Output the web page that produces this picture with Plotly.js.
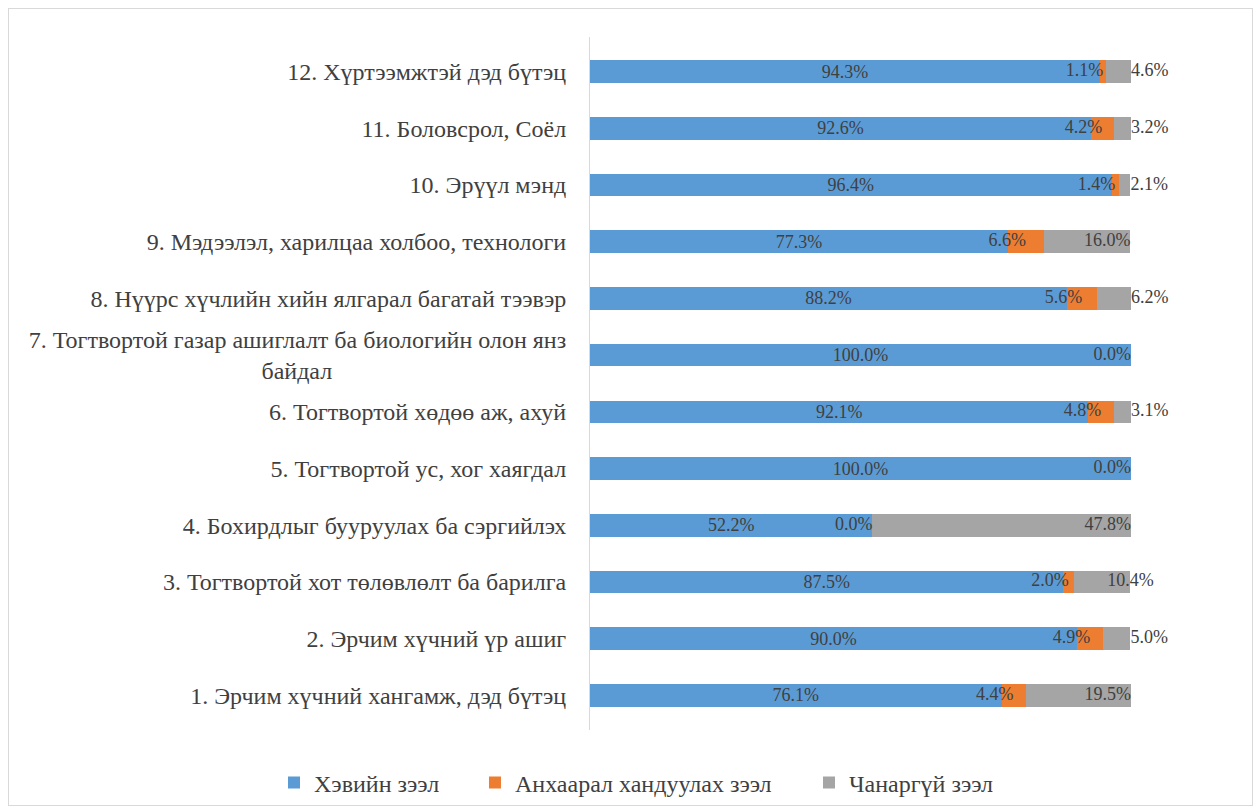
<!DOCTYPE html>
<html>
<head>
<meta charset="utf-8">
<script src="https://cdn.plot.ly/plotly-3.0.1.min.js"></script>
<style>
  html, body { margin: 0; padding: 0; background: #fff; }
  #wrap { position: relative; width: 1260px; height: 811px; overflow: hidden; }
  #chart { width: 1260px; height: 811px; }
  #frame { position: absolute; left: 8px; top: 8px; width: 1243px; height: 796px;
           border: 1px solid #d9d9d9; pointer-events: none; }
  #fontwarm { position: absolute; left: 0; top: 0; font-family: 'Liberation Serif'; font-size: 10px;
              color: rgba(0,0,0,0); pointer-events: none; }
</style>
</head>
<body>
<div id="wrap">
  <div id="fontwarm">Эрчим хүчний 94.3%</div>
  <div id="chart"></div>
  <div id="frame"></div>
</div>
<script>
// Categories (bottom to top)
const categories = [
  "1. Эрчим хүчний хангамж, дэд бүтэц",
  "2. Эрчим хүчний үр ашиг",
  "3. Тогтвортой хот төлөвлөлт ба барилга",
  "4. Бохирдлыг бууруулах ба сэргийлэх",
  "5. Тогтвортой ус, хог хаягдал",
  "6. Тогтвортой хөдөө аж, ахуй",
  "7. Тогтвортой газар ашиглалт ба биологийн олон янз<br>байдал" + "\u00a0".repeat(39),
  "8. Нүүрс хүчлийн хийн ялгарал багатай тээвэр",
  "9. Мэдээлэл, харилцаа холбоо, технологи",
  "10. Эрүүл мэнд",
  "11. Боловсрол, Соёл",
  "12. Хүртээмжтэй дэд бүтэц"
];
const seriesNames = ["Хэвийн зээл", "Анхаарал хандуулах зээл", "Чанаргүй зээл"];
const normal    = [76.1, 90.0, 87.5, 52.2, 100.0, 92.1, 100.0, 88.2, 77.3, 96.4, 92.6, 94.3];
const attention = [4.4, 4.9, 2.0, 0.0, 0.0, 4.8, 0.0, 5.6, 6.6, 1.4, 4.2, 1.1];
const bad       = [19.5, 5.0, 10.4, 47.8, 0.0, 3.1, 0.0, 6.2, 16.0, 2.1, 3.2, 4.6];
const colors = ["#5B9BD5", "#ED7D31", "#A5A5A5"];

const FONT = "Liberation Serif";
const TXT = "#404040";
const fmt = v => v.toFixed(1) + "%";

const traces = [
  { type: "bar", orientation: "h", name: seriesNames[0], legend: "legend", y: categories, x: normal,
    marker: { color: colors[0] }, text: normal.map(fmt), textposition: "inside",
    insidetextanchor: "middle", constraintext: "none",
    insidetextfont: { family: FONT, size: 18, color: TXT }, hoverinfo: "x" },
  { type: "bar", orientation: "h", name: seriesNames[1], legend: "legend2", y: categories, x: attention,
    marker: { color: colors[1] }, textposition: "none", hoverinfo: "x" },
  { type: "bar", orientation: "h", name: seriesNames[2], legend: "legend3", y: categories, x: bad,
    marker: { color: colors[2] }, textposition: "none", hoverinfo: "x" }
];

// Labels for the orange segments (hidden where the row is fully "normal")
traces.push({
  type: "scatter", mode: "text", showlegend: false, hoverinfo: "skip", cliponaxis: false,
  y: categories,
  x: normal.map((v, i) => v + attention[i] / 2),
  text: attention.map((v, i) => normal[i] >= 100 ? "" : fmt(v)),
  textposition: "middle left",
  textfont: { family: FONT, size: 18, color: TXT }
});
// Labels for the grey segments
traces.push({
  type: "scatter", mode: "text", showlegend: false, hoverinfo: "skip", cliponaxis: false,
  y: categories,
  x: normal.map((v, i) => v + attention[i] + bad[i]),
  text: bad.map(fmt),
  textposition: bad.map(v => (v === 0 || v > 12) ? "middle left" : (v < 8 ? "middle right" : "middle center")),
  textfont: { family: FONT, size: 18, color: TXT }
});

const legendBase = { orientation: "h", xref: "paper", yref: "paper", xanchor: "left",
  y: -0.0765, yanchor: "middle", font: { family: FONT, size: 24, color: TXT },
  bgcolor: "rgba(0,0,0,0)" };

const layout = {
  width: 1260, height: 811,
  margin: { l: 590, r: 129, t: 37, b: 81, autoexpand: false },
  barmode: "stack",
  bargap: 0.6,
  paper_bgcolor: "#ffffff", plot_bgcolor: "#ffffff",
  font: { family: FONT, size: 19, color: TXT },
  xaxis: { range: [0, 100], showticklabels: false, showgrid: false, zeroline: false,
           showline: false, ticks: "", fixedrange: true },
  yaxis: { type: "category", showline: true, linecolor: "#d9d9d9", linewidth: 1,
           showgrid: false, zeroline: false, ticks: "", ticklabelstandoff: 18,
           tickfont: { family: FONT, size: 24, color: TXT }, fixedrange: true },
  showlegend: true,
  legend:  Object.assign({}, legendBase, { x: -0.5841 }),
  legend2: Object.assign({}, legendBase, { x: -0.2126 }),
  legend3: Object.assign({}, legendBase, { x: 0.4048 }),
  hovermode: false
};

function draw() {
  Plotly.newPlot("chart", traces, layout, { displayModeBar: false, staticPlot: true });
}
if (document.fonts && document.fonts.load) {
  document.fonts.load("20px 'Liberation Serif'").then(draw, draw);
} else {
  draw();
}
</script>
</body>
</html>
